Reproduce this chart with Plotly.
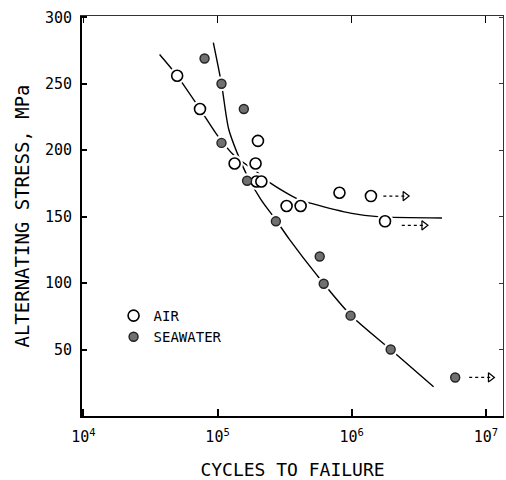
import plotly.graph_objects as go

# ---- data ----
air_cycles = [5.0e4, 7.4e4, 1.34e5, 2.0e5, 1.92e5, 1.95e5, 2.12e5, 3.27e5, 4.16e5, 8.1e5, 1.39e6, 1.77e6]
air_stress = [256, 231, 190, 207, 190, 176.5, 176.5, 158, 158, 168, 165.5, 146.5]

sea_cycles = [8.0e4, 1.07e5, 1.57e5, 1.07e5, 1.66e5, 2.72e5, 5.77e5, 6.18e5, 9.8e5, 1.95e6, 5.9e6]
sea_stress = [269, 250, 231, 205.5, 177, 146.5, 120, 99.5, 75.5, 50, 29]

air_fit_cycles = [3.7e4, 5.0e4, 7.4e4, 1.0e5, 1.33e5, 2.0e5, 2.5e5, 4.0e5, 5.0e5, 1.0e6, 1.56e6, 4.7e6]
air_fit_stress = [272, 256, 231, 211, 196, 183, 175, 163, 160, 152.5, 150, 149]

sea_fit_cycles = [9.3e4, 1.07e5, 1.21e5, 1.4e5, 1.66e5, 2.1e5, 2.7e5, 3.4e5, 5.5e5, 9.8e5, 1.95e6, 4.07e6]
sea_fit_stress = [281, 250, 216, 198, 181, 163, 148, 133.5, 106, 76, 50, 22]

# run-out arrows (unbroken specimens): start cycles, end cycles, stress
runout_start = [1.72e6, 2.36e6, 7.5e6]
runout_end = [2.5e6, 3.45e6, 10.8e6]
runout_stress = [165.5, 143.5, 29]

x_tick_vals = [1e4, 1e5, 1e6, 1e7]
x_tick_text = ["10<sup>4</sup>", "10<sup>5</sup>", "10<sup>6</sup>", "10<sup>7</sup>"]
y_ticks = [50, 100, 150, 200, 250, 300]

FONT = "DejaVu Sans Mono"
X_RANGE = [3.99, 7.127]
Y_RANGE = [0, 301]

fig = go.Figure()

# fitted curves
for xs, ys in ((air_fit_cycles, air_fit_stress), (sea_fit_cycles, sea_fit_stress)):
    fig.add_trace(go.Scatter(x=xs, y=ys, mode="lines",
                             line=dict(color="black", width=1.4, shape="spline", smoothing=0.8),
                             showlegend=False, hoverinfo="skip"))

# white halos to break lines around points
fig.add_trace(go.Scatter(x=air_cycles, y=air_stress, mode="markers",
                         marker=dict(size=17, color="white", line=dict(width=0)),
                         showlegend=False, hoverinfo="skip"))
fig.add_trace(go.Scatter(x=sea_cycles, y=sea_stress, mode="markers",
                         marker=dict(size=15, color="white", line=dict(width=0)),
                         showlegend=False, hoverinfo="skip"))

# run-out arrows
for xs, xe, ys in zip(runout_start, runout_end, runout_stress):
    fig.add_trace(go.Scatter(x=[xs, xe], y=[ys, ys], mode="lines",
                             line=dict(color="black", width=1.2, dash="dot"),
                             showlegend=False, hoverinfo="skip"))
fig.add_trace(go.Scatter(x=runout_end, y=runout_stress, mode="markers",
                         marker=dict(symbol="triangle-right-open", size=8,
                                     color="black", line=dict(width=1.2, color="black")),
                         showlegend=False, hoverinfo="skip"))

# data points
fig.add_trace(go.Scatter(x=air_cycles, y=air_stress, mode="markers", name="AIR",
                         marker=dict(symbol="circle", size=11, color="white",
                                     line=dict(width=1.6, color="black"))))
fig.add_trace(go.Scatter(x=sea_cycles, y=sea_stress, mode="markers", name="SEAWATER",
                         marker=dict(symbol="circle", size=9, color="#707070",
                                     line=dict(width=1.4, color="#222222"))))

# invisible trace to anchor the thin top/right frame axes
fig.add_trace(go.Scatter(x=[1e5], y=[100], xaxis="x2", yaxis="y2", mode="markers",
                         marker=dict(opacity=0), showlegend=False, hoverinfo="skip"))

fig.update_layout(
    width=506, height=480,
    margin=dict(l=82, r=3, t=16, b=62),
    paper_bgcolor="white", plot_bgcolor="white",
    font=dict(family=FONT, color="black", size=15),
    legend=dict(x=0.075, y=0.29, xanchor="left", yanchor="top",
                bgcolor="rgba(0,0,0,0)", font=dict(size=14, family=FONT),
                itemwidth=30),
    xaxis=dict(type="log", range=X_RANGE,
               tickvals=x_tick_vals, ticktext=x_tick_text,
               ticks="inside", ticklen=7, tickwidth=1.5, tickcolor="black",
               ticklabelstandoff=6,
               showline=True, linewidth=2, linecolor="black", mirror=False,
               showgrid=False, zeroline=False,
               tickfont=dict(size=15, family=FONT),
               title=dict(text="CYCLES TO FAILURE", font=dict(size=18, family=FONT), standoff=18)),
    yaxis=dict(range=Y_RANGE, tickvals=y_ticks,
               ticks="inside", ticklen=5, tickwidth=1.5, tickcolor="black",
               ticklabelstandoff=5,
               showline=True, linewidth=2, linecolor="black", mirror=False,
               showgrid=False, zeroline=False,
               tickfont=dict(size=15, family=FONT),
               title=dict(text="ALTERNATING STRESS, MPa", font=dict(size=19, family=FONT), standoff=10)),
    xaxis2=dict(type="log", range=X_RANGE, overlaying="x", side="top",
                tickvals=x_tick_vals, showticklabels=False,
                ticks="inside", ticklen=7, tickwidth=1.2, tickcolor="black",
                showline=True, linewidth=1, linecolor="#333333",
                showgrid=False, zeroline=False),
    yaxis2=dict(range=Y_RANGE, overlaying="y", side="right",
                tickvals=y_ticks, showticklabels=False,
                ticks="inside", ticklen=4, tickwidth=1, tickcolor="#333333",
                showline=True, linewidth=1, linecolor="#333333",
                showgrid=False, zeroline=False),
)

fig.write_html("out.html")
